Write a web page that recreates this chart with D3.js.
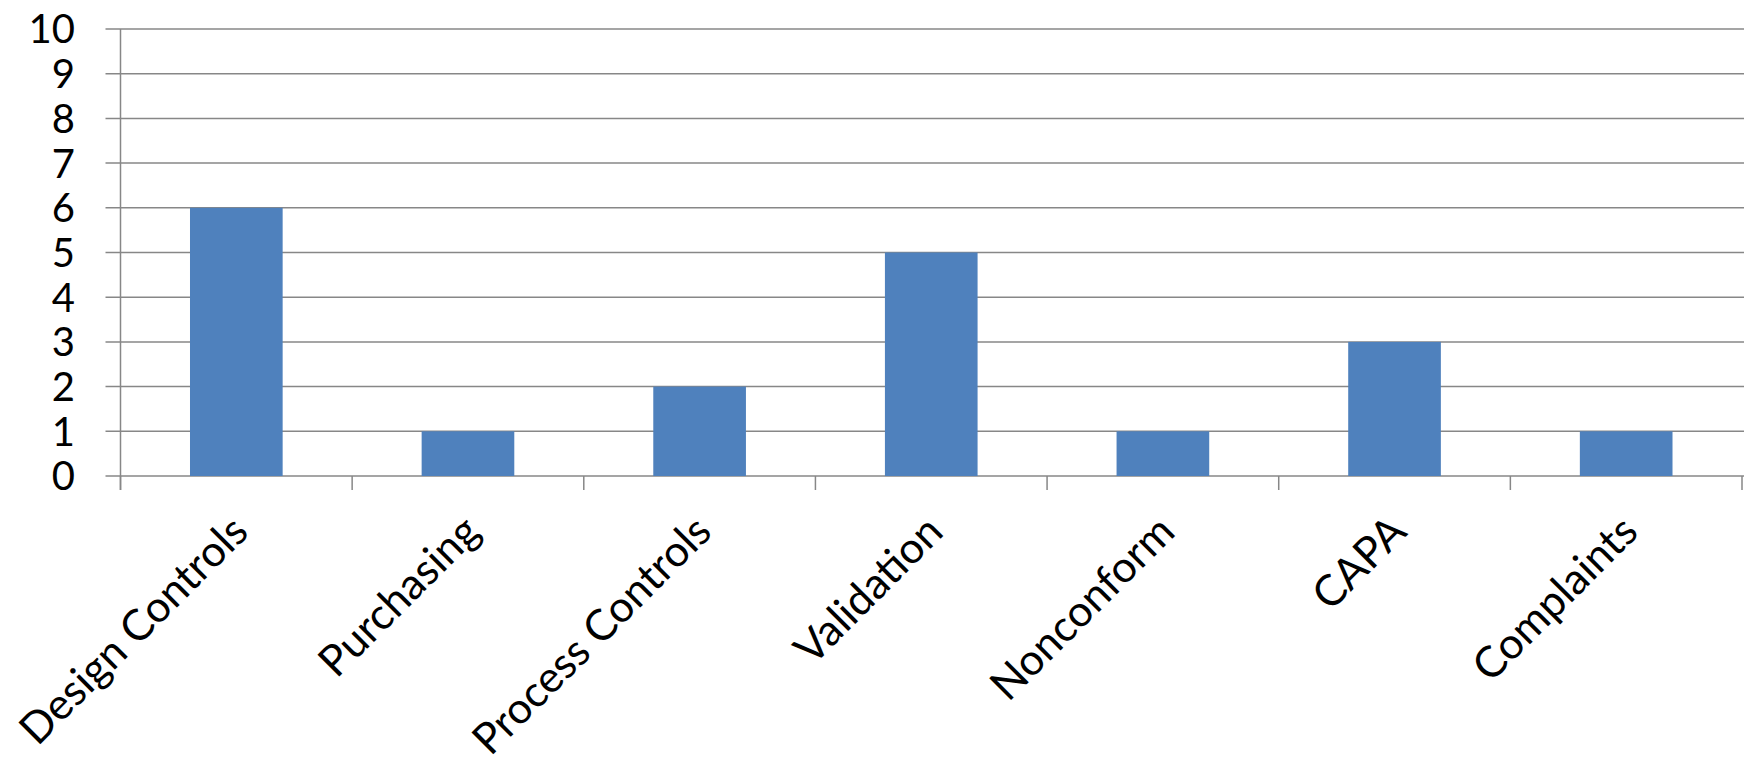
<!DOCTYPE html>
<html><head><meta charset="utf-8">
<script src="https://cdn.jsdelivr.net/npm/d3@7"></script>
<style>html,body{margin:0;padding:0;background:#fff;}svg{display:block;}</style>
</head><body>
<svg id="chart" width="1744" height="766"></svg>
<script>
const categories = ["Design Controls","Purchasing","Process Controls","Validation","Nonconform","CAPA","Complaints"];
const values = [6,1,2,5,1,3,1];
const yTicks = [0,1,2,3,4,5,6,7,8,9,10];

const svg = d3.select("#chart");
const mLeft = 120.5, mRight = 1742, mTop = 29, mBottom = 476;
const font = "Lato, 'Open Sans', sans-serif";
const x = d3.scaleBand().domain(categories).range([mLeft, mRight]).paddingInner(0.6).paddingOuter(0.3);
const y = d3.scaleLinear().domain([0,10]).range([mBottom, mTop]);
const gridColor = "#878787";

// gridlines
svg.append("g").selectAll("line").data(yTicks).join("line")
  .attr("x1", mLeft - 15).attr("x2", 1744)
  .attr("y1", d => y(d)).attr("y2", d => y(d))
  .attr("stroke", gridColor).attr("stroke-width", 1.5);

// bars
svg.append("g").selectAll("rect").data(values).join("rect")
  .attr("x", (d,i) => x(categories[i]))
  .attr("width", x.bandwidth())
  .attr("y", d => y(d))
  .attr("height", d => y(0) - y(d))
  .attr("fill", "#4F81BD");

// y axis line
svg.append("line").attr("x1", mLeft).attr("x2", mLeft).attr("y1", mTop).attr("y2", mBottom + 14)
  .attr("stroke", gridColor).attr("stroke-width", 1.5);

// x ticks at band boundaries
const step = x.step();
const x0 = x(categories[0]) - x.paddingOuter() * step;
const bounds = d3.range(categories.length + 1).map(i => x0 + i * step);
svg.append("g").selectAll("line").data(bounds).join("line")
  .attr("x1", d => d).attr("x2", d => d).attr("y1", mBottom).attr("y2", mBottom + 14)
  .attr("stroke", gridColor).attr("stroke-width", 1.5);

// y labels
svg.append("g").selectAll("text").data(yTicks).join("text")
  .attr("x", 75).attr("y", d => y(d)).attr("dy", "0.36em")
  .attr("text-anchor", "end").attr("font-family", font).attr("font-size", 40).attr("fill", "#000")
  .text(d => d);

// x labels
svg.append("g").selectAll("text").data(categories).join("text")
  .attr("transform", d => `translate(${x(d) + x.bandwidth()/2 + 14},${mBottom + 58}) rotate(-45)`)
  .attr("text-anchor", "end").attr("font-family", font).attr("font-size", 43).attr("fill", "#000")
  .text(d => d);
</script>
</body></html>
